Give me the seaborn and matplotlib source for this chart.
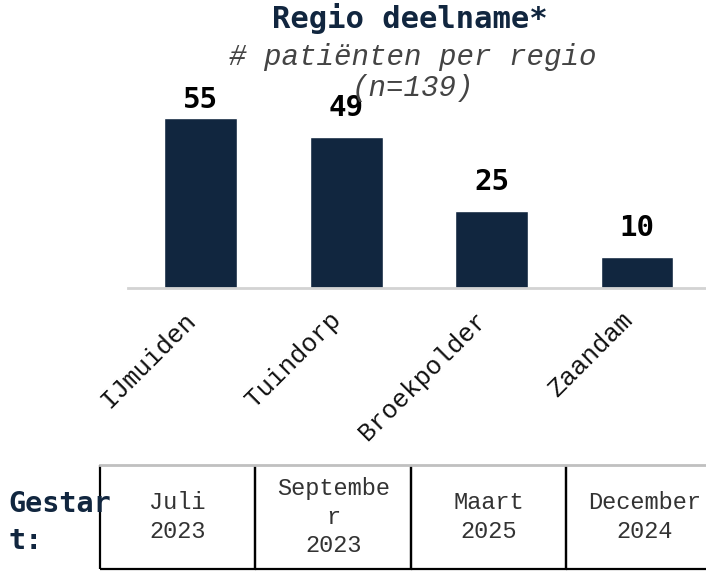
import matplotlib
matplotlib.use("Agg")
import matplotlib.pyplot as plt
import seaborn as sns
import pandas as pd

regions = ["IJmuiden", "Tuindorp", "Broekpolder", "Zaandam"]
patients = [55, 49, 25, 10]
start_dates = ["Juli\n2023", "Septembe\nr\n2023", "Maart\n2025", "December\n2024"]
row_label = "Gestar\nt:"

navy = "#11263f"
mono = "Liberation Mono"
mono_bold = "DejaVu Sans Mono"

sns.set_style("white")

df = pd.DataFrame({"regio": regions, "n": patients})

fig = plt.figure(figsize=(7.06, 5.71), dpi=100)
ax = fig.add_axes([0.1813, 0.4956, 0.824, 0.3356])

sns.barplot(data=df, x="regio", y="n", color=navy, width=0.5, saturation=1, ax=ax)
ax.set_xlim(-0.5, 3.5)
ax.set_ylim(0, 62)

for i, v in enumerate(patients):
    ax.text(i, min(v + 9.4, 60.8), str(v), ha="center", va="center",
            fontsize=21, fontweight="bold", family=mono_bold, color="black")

ax.set_xlabel("")
ax.set_ylabel("")
ax.set_yticks([])
ax.tick_params(axis="x", length=0, pad=14)
plt.setp(ax.get_xticklabels(), rotation=45, ha="right", rotation_mode="default",
         fontsize=18.5, family=mono, color="#111111")
for s in ["top", "right", "left"]:
    ax.spines[s].set_visible(False)
ax.spines["bottom"].set_color("#d3d3d3")
ax.spines["bottom"].set_linewidth(2)

fig.text(0.581, 0.968, "Regio deelname*", ha="center", va="center",
         fontsize=22, fontweight="bold", family=mono_bold, color=navy)
fig.text(0.585, 0.873, "# patiënten per regio\n(n=139)", ha="center", va="center",
         fontsize=21, style="italic", family=mono, color="#444444", linespacing=1.12)

# table with start dates
tax = fig.add_axes([0.1416, 0.0035, 0.881, 0.182])
tax.set_xticks([])
tax.set_yticks([])
for s in ["left", "right", "bottom"]:
    tax.spines[s].set_visible(False)
tax.spines["top"].set_color("#c0c0c0")
tax.spines["top"].set_linewidth(2)
tax.patch.set_alpha(0)

tbl = tax.table(cellText=[start_dates], cellLoc="center", bbox=[0, 0, 1, 1],
                edges="BLR")
tbl.auto_set_font_size(False)
for cell in tbl.get_celld().values():
    cell.set_linewidth(1.6)
    cell.set_edgecolor("black")
    cell.get_text().set_fontsize(17)
    cell.get_text().set_family(mono)
    cell.get_text().set_color("#333333")
    cell.get_text().set_linespacing(1.3)

fig.text(0.012, 0.085, row_label, ha="left", va="center", fontsize=20.5,
         fontweight="bold", family=mono_bold, color=navy, linespacing=1.4)

fig.savefig("out.png", dpi=100)
